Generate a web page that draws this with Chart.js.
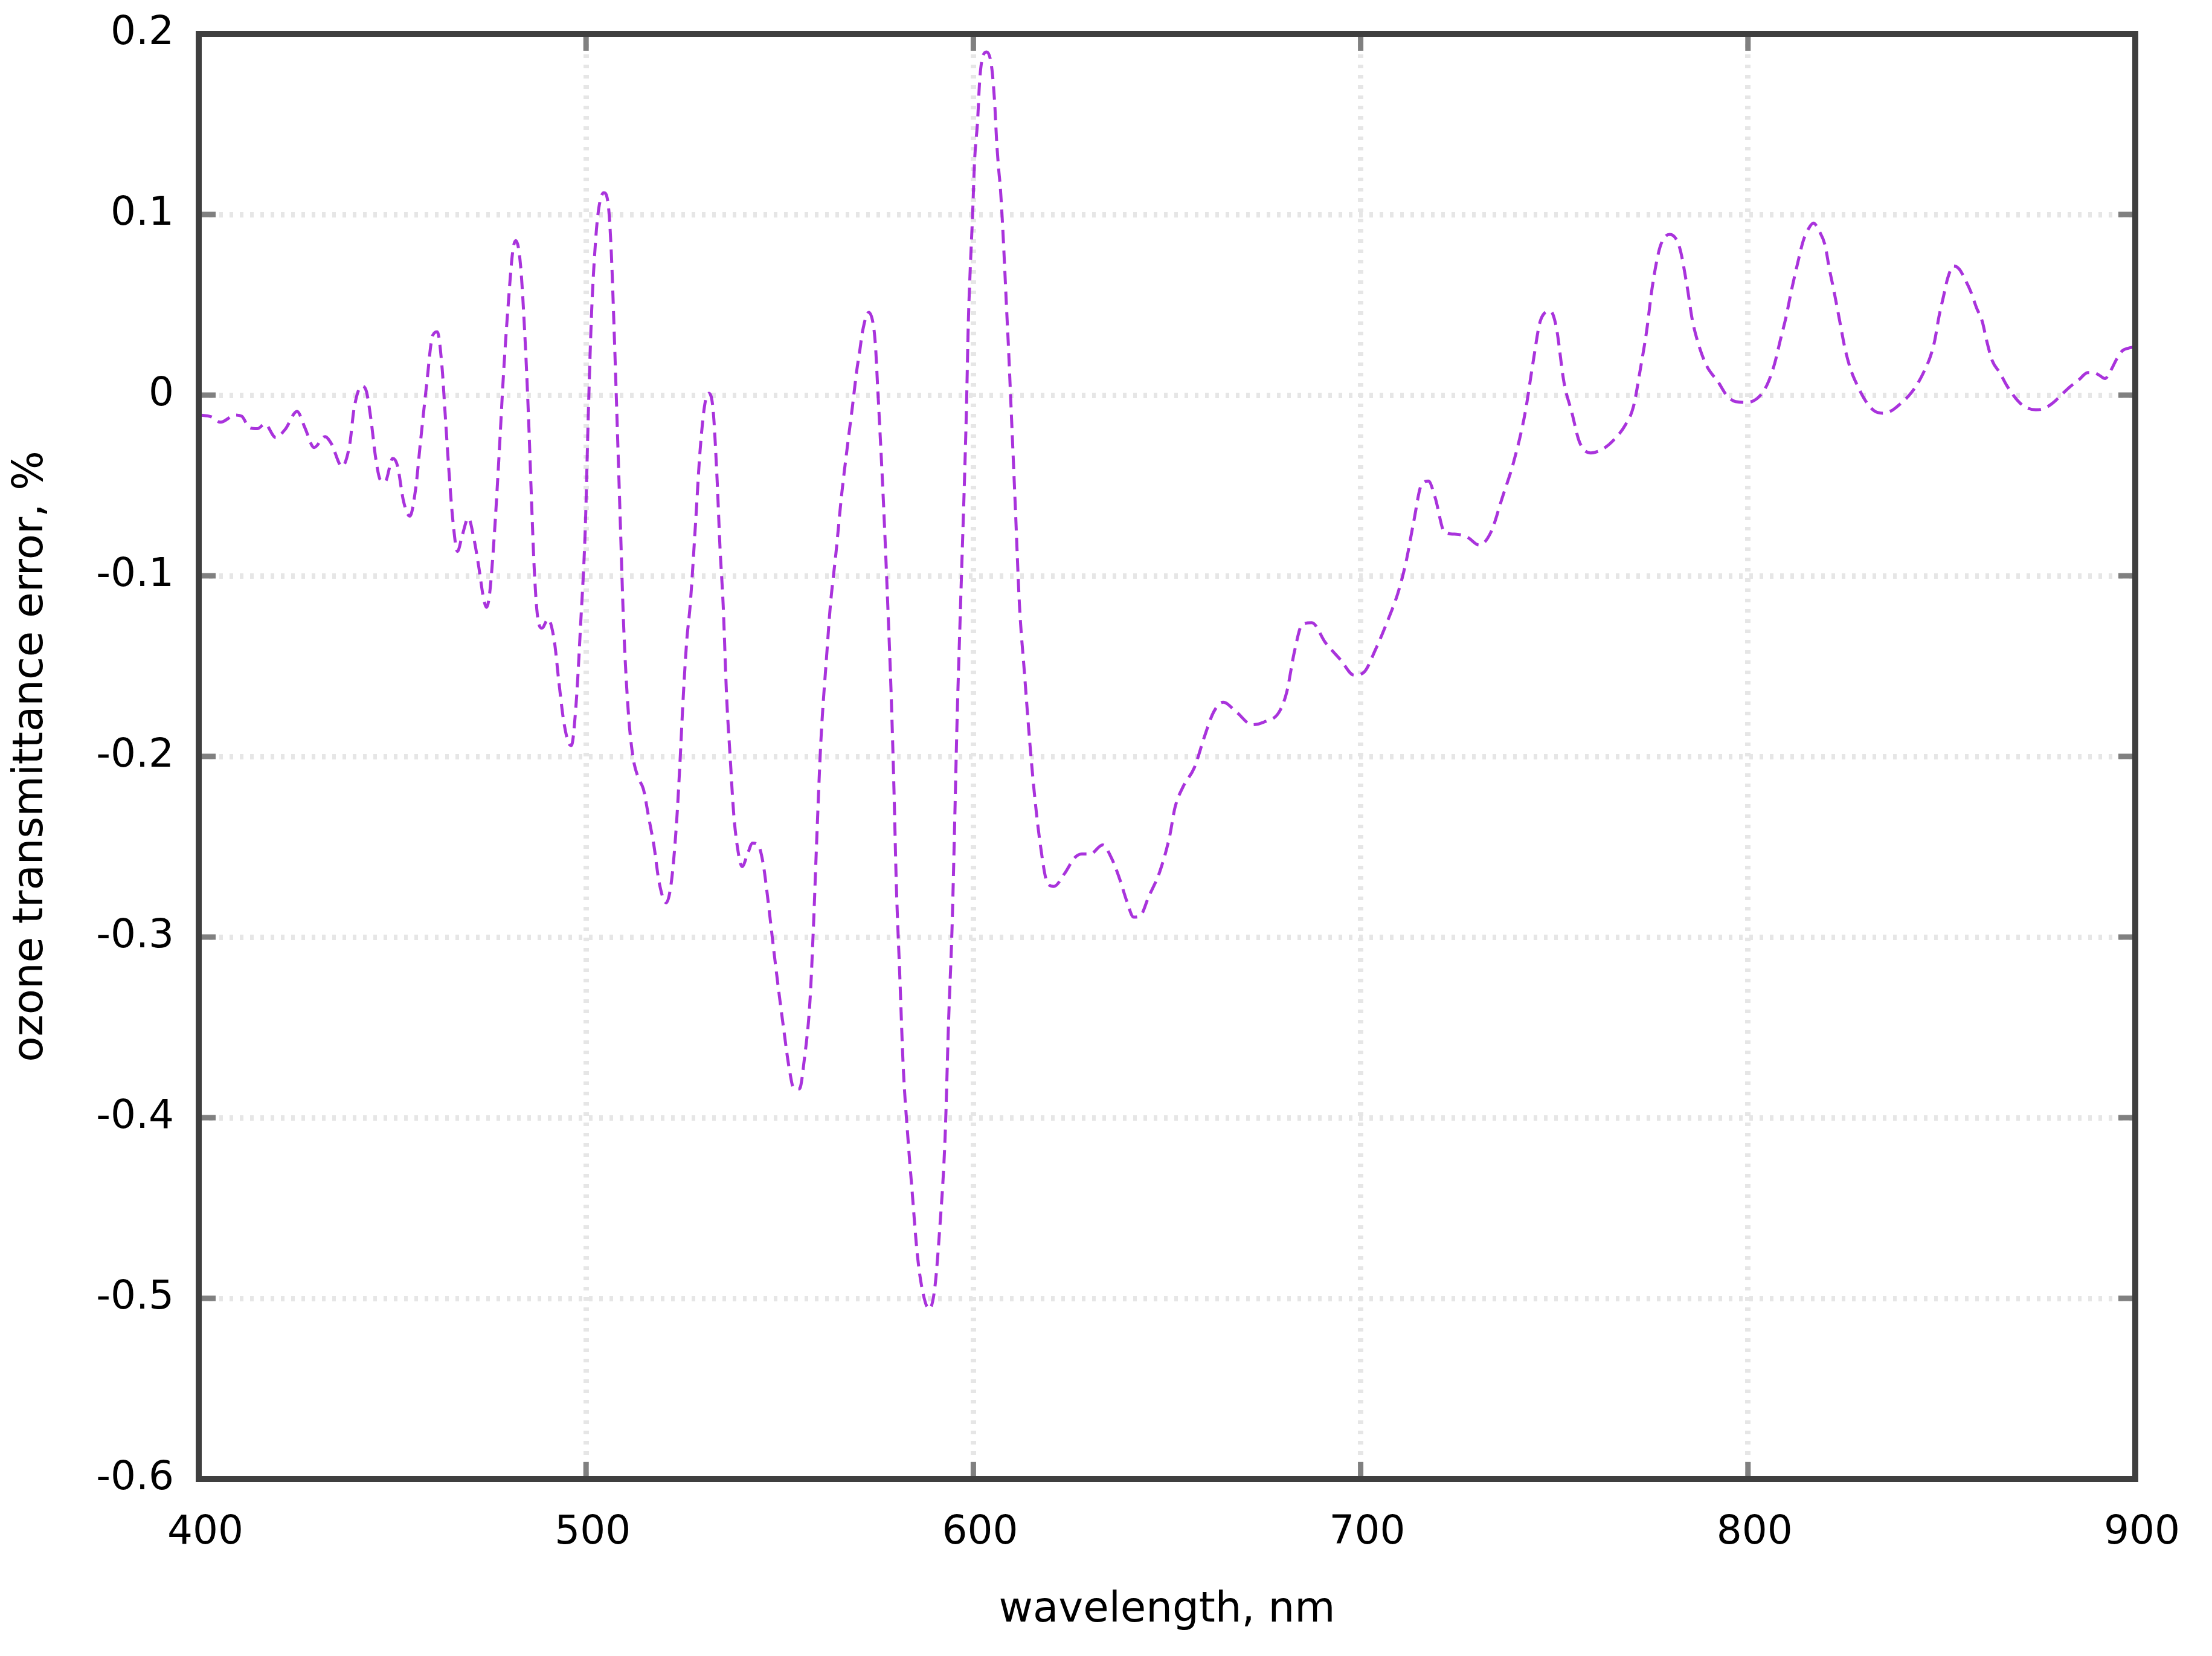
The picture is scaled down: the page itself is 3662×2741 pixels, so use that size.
<!DOCTYPE html>
<html>
<head>
<meta charset="utf-8">
<script src="https://cdn.jsdelivr.net/npm/chart.js@4"></script>
<style>
  html, body { margin: 0; padding: 0; background: #fff; }
  canvas { display: block; }
</style>
</head>
<body>
<canvas id="grafico" width="3662" height="2741"></canvas>
<script>
// Dados: comprimento de onda (nm) e erro de transmitância (%)
const wavelength = [
  400, 403.2, 405.6, 409.5, 411.1, 413.1, 415.1, 417.1, 419.9, 422.3,
  425.4, 427.4, 429.8, 432.6, 434.2, 437, 439, 440.1, 442.1, 443.3,
  444.5, 445.7, 446.9, 448.1, 450.1, 451.3, 452.9, 454.5, 456, 457.2,
  458.8, 460.4, 461.6, 462.8, 463.6, 464.8, 465.6, 466.8, 468, 469.6,
  471.1, 472.3, 473.5, 474.3, 475.1, 476.3, 477.5, 478.7, 479.9, 481.1,
  481.9, 483.1, 484.3, 485.1, 485.9, 486.6, 487.4, 488.6, 490.2, 491.8,
  493, 494.2, 495.4, 496.2, 497.4, 498.6, 499.8, 500.6, 501.4, 502.5,
  503.3, 504.6, 505.7, 506.5, 507.3, 508.1, 508.9, 509.7, 510.9, 512.1,
  513.5, 514.8, 516.2, 517.5, 518.9, 520.7, 522, 523.3, 524.2, 525.1,
  526, 526.9, 528.3, 529.4, 530.6, 531.7, 532.8, 533.8, 534.6, 535.4,
  536.3, 537.2, 538.1, 539, 540.3, 541.7, 543, 544.4, 545.7, 547,
  548.4, 549.7, 551.1, 552.4, 553.7, 555.1, 556.4, 557.8, 558.7, 559.6,
  560.6, 562.2, 563.1, 564.5, 566, 567.5, 568.8, 569.9, 570.7, 571.4,
  573, 574.3, 574.8, 575.3, 575.6, 576.8, 577.9, 578.8, 579.5, 580.1,
  581, 581.9, 583.1, 584.2, 585.5, 586.8, 588.6, 590, 591.3, 592.7,
  593.6, 594.5, 595.1, 595.8, 596.7, 598.2, 598.7, 599.2, 599.8, 600.3,
  601.1, 601.6, 602.1, 603.4, 604.7, 605.5, 606, 606.5, 607, 607.6,
  608.1, 608.6, 609.1, 609.6, 610.8, 611.9, 613.2, 614.6, 615.9, 617.3,
  619.1, 620.8, 623.5, 626.2, 628, 630.2, 633.4, 635.6, 637.8, 639.6,
  641.4, 643.2, 645.2, 648.1, 650.6, 652.1, 654.1, 657.1, 659.6, 662,
  664.5, 668, 672, 675, 678.9, 680.9, 682.9, 684.9, 687.4, 690.9,
  694.8, 698.3, 700.8, 703.8, 706.8, 709.7, 711.7, 713.7, 715.7, 717.5,
  719.2, 721.7, 724.7, 727.6, 730.6, 733.6, 736.6, 739.5, 742.5, 744.5,
  746.5, 749, 750.5, 752.5, 754.5, 756.5, 759.4, 762.4, 765.4, 768.4,
  770.4, 772.3, 773.8, 775.3, 777.3, 779.8, 782.3, 784.3, 785.6, 787.1,
  789.3, 792.3, 794.6, 796.8, 799.8, 802.8, 805, 806.9, 808.3, 809.8,
  811.3, 812.8, 814.3, 815.8, 816.9, 818.4, 819.9, 821, 822.1, 823.6,
  825.1, 826.6, 828.1, 830.3, 832.6, 834.8, 837, 839.3, 841.5, 843.7,
  845.6, 847.1, 848.2, 849.3, 850.5, 851.6, 853.1, 854.6, 856.1, 857.5,
  859, 860.5, 861.6, 863.1, 865, 866.8, 869.1, 871.3, 874.3, 876.5,
  878.8, 881, 883.2, 885.5, 887.7, 889.2, 890.7, 892.2, 893.7, 895.2,
  896.7, 898.2, 899.6
];

const ozoneError = [
  -0.011, -0.012, -0.015, -0.011, -0.0117, -0.018, -0.0186, -0.016, -0.0235, -0.019,
  -0.009, -0.018, -0.029, -0.023, -0.0267, -0.0395, -0.027, -0.0075, 0.005, 0.002,
  -0.014, -0.035, -0.047, -0.048, -0.035, -0.039, -0.059, -0.067, -0.052, -0.027,
  0.005, 0.033, 0.035, 0.016, -0.0096, -0.048, -0.069, -0.0865, -0.078, -0.068,
  -0.080, -0.095, -0.112, -0.1175, -0.110, -0.078, -0.035, 0.012, 0.050, 0.080,
  0.0855, 0.0716, 0.029, -0.0096, -0.057, -0.095, -0.121, -0.129, -0.124, -0.136,
  -0.159, -0.180, -0.192, -0.194, -0.172, -0.127, -0.074, -0.0096, 0.044, 0.0865,
  0.1036, 0.112, 0.106, 0.080, 0.033, -0.020, -0.074, -0.127, -0.175, -0.200,
  -0.212, -0.218, -0.234, -0.249, -0.270, -0.281, -0.270, -0.239, -0.2056, -0.167,
  -0.136, -0.116, -0.070, -0.032, -0.006, 0.001, -0.008, -0.045, -0.085, -0.116,
  -0.167, -0.200, -0.231, -0.249, -0.261, -0.254, -0.248, -0.249, -0.259, -0.280,
  -0.306, -0.329, -0.352, -0.372, -0.384, -0.384, -0.367, -0.336, -0.295, -0.244,
  -0.193, -0.142, -0.116, -0.088, -0.055, -0.028, -0.006, 0.0137, 0.025, 0.0354,
  0.0458, 0.037, 0.025, 0.004, -0.008, -0.060, -0.116, -0.167, -0.218, -0.270,
  -0.321, -0.372, -0.411, -0.441, -0.475, -0.495, -0.506, -0.495, -0.462, -0.411,
  -0.347, -0.295, -0.244, -0.180, -0.116, -0.009, 0.040, 0.070, 0.0996, 0.129,
  0.152, 0.173, 0.184, 0.190, 0.182, 0.162, 0.141, 0.126, 0.114, 0.092,
  0.070, 0.047, 0.025, 0.000, -0.060, -0.116, -0.154, -0.193, -0.2236, -0.249,
  -0.270, -0.272, -0.265, -0.256, -0.254, -0.254, -0.249, -0.256, -0.268, -0.280,
  -0.289, -0.288, -0.278, -0.264, -0.245, -0.228, -0.217, -0.206, -0.1895, -0.1756,
  -0.170, -0.1756, -0.1825, -0.181, -0.1756, -0.1645, -0.142, -0.127, -0.126, -0.137,
  -0.1465, -0.155, -0.1535, -0.141, -0.1258, -0.109, -0.0925, -0.070, -0.0496, -0.0476,
  -0.0565, -0.076, -0.077, -0.0787, -0.083, -0.076, -0.0565, -0.037, -0.0094, 0.018,
  0.0418, 0.0465, 0.0377, 0.007, -0.0094, -0.026, -0.032, -0.030, -0.0247, -0.0163,
  -0.0066, 0.0155, 0.035, 0.060, 0.082, 0.089, 0.082, 0.060, 0.042, 0.029,
  0.0163, 0.0073, -0.0004, -0.0036, -0.004, -0.001, 0.006, 0.0176, 0.030, 0.043,
  0.0587, 0.0728, 0.0856, 0.0927, 0.0952, 0.0908, 0.083, 0.070, 0.0587, 0.042,
  0.0253, 0.0137, 0.006, -0.003, -0.0087, -0.010, -0.0087, -0.0049, -0.0004, 0.006,
  0.0137, 0.0214, 0.030, 0.0433, 0.0548, 0.065, 0.0715, 0.0696, 0.0638, 0.0574,
  0.0484, 0.0407, 0.0304, 0.0189, 0.0125, 0.0054, -0.0017, -0.0062, -0.0081, -0.0074,
  -0.0042, 0.0003, 0.0047, 0.0086, 0.0125, 0.0125, 0.011, 0.0092, 0.0137, 0.020,
  0.0246, 0.026, 0.0266
];

// Marcas dos eixos
const xTicks = [400, 500, 600, 700, 800, 900];
const yTicks = [-0.6, -0.5, -0.4, -0.3, -0.2, -0.1, 0, 0.1, 0.2];

const fonte = { family: 'DejaVu Sans', size: 66 };
const fonteTitulo = { family: 'DejaVu Sans', size: 69 };

// Moldura do gráfico e marcas internas (estilo gnuplot)
const moldura = {
  id: 'moldura',
  afterDatasetsDraw(chart) {
    const { ctx, chartArea: a, scales: { x, y } } = chart;
    ctx.save();
    ctx.strokeStyle = '#808080';
    ctx.lineWidth = 9;
    ctx.beginPath();
    xTicks.forEach(v => {
      const px = x.getPixelForValue(v);
      ctx.moveTo(px, a.bottom); ctx.lineTo(px, a.bottom - 28);
      ctx.moveTo(px, a.top); ctx.lineTo(px, a.top + 28);
    });
    yTicks.forEach(v => {
      const py = y.getPixelForValue(v);
      ctx.moveTo(a.left, py); ctx.lineTo(a.left + 28, py);
      ctx.moveTo(a.right, py); ctx.lineTo(a.right - 28, py);
    });
    ctx.stroke();
    ctx.strokeStyle = '#3f3f3f';
    ctx.lineWidth = 10;
    ctx.strokeRect(a.left, a.top, a.right - a.left, a.bottom - a.top);
    ctx.restore();
  }
};

const pontos = wavelength.map((w, i) => ({ x: w, y: ozoneError[i] }));

new Chart(document.getElementById('grafico'), {
  type: 'line',
  data: {
    datasets: [{
      data: pontos,
      borderColor: 'rgba(148, 0, 211, 0.8)',
      borderWidth: 5,
      borderDash: [22, 12],
      pointRadius: 0,
      fill: false,
      cubicInterpolationMode: 'monotone'
    }]
  },
  options: {
    responsive: false,
    animation: false,
    devicePixelRatio: 1,
    layout: { padding: { left: 0, top: 56, right: 127, bottom: 0 } },
    plugins: { legend: { display: false }, tooltip: { enabled: false } },
    scales: {
      x: {
        type: 'linear',
        min: 400,
        max: 900,
        afterFit: s => { s.height = 293; },
        afterBuildTicks: s => { s.ticks = xTicks.map(v => ({ value: v })); },
        grid: { color: '#e6e6e6', lineWidth: 9, drawTicks: false },
        border: { display: false, dash: [6, 11] },
        ticks: { font: fonte, color: '#000', padding: 50, labelOffset: 11, autoSkip: false,
                 maxRotation: 0, callback: v => String(v) },
        title: { display: true, text: 'wavelength, nm', font: fonteTitulo, color: '#000',
                 padding: { top: 0, bottom: 34 } }
      },
      y: {
        type: 'linear',
        min: -0.6,
        max: 0.2,
        // sem folga extra para os rótulos: a área do gráfico fica fixa
        afterFit: s => { s.width = 329; s.paddingTop = 0; s.paddingBottom = 0; },
        afterBuildTicks: s => { s.ticks = yTicks.map(v => ({ value: v })); },
        grid: { color: '#e6e6e6', lineWidth: 9, drawTicks: false },
        border: { display: false, dash: [6, 11] },
        ticks: { font: fonte, color: '#000', padding: 41, autoSkip: false,
                 callback: v => String(Math.round(v * 10) / 10) },
        title: { display: true, text: 'ozone transmittance error, %', font: fonteTitulo, color: '#000',
                 padding: { top: 11, bottom: 0 } }
      }
    }
  },
  plugins: [moldura]
});
</script>
</body>
</html>
